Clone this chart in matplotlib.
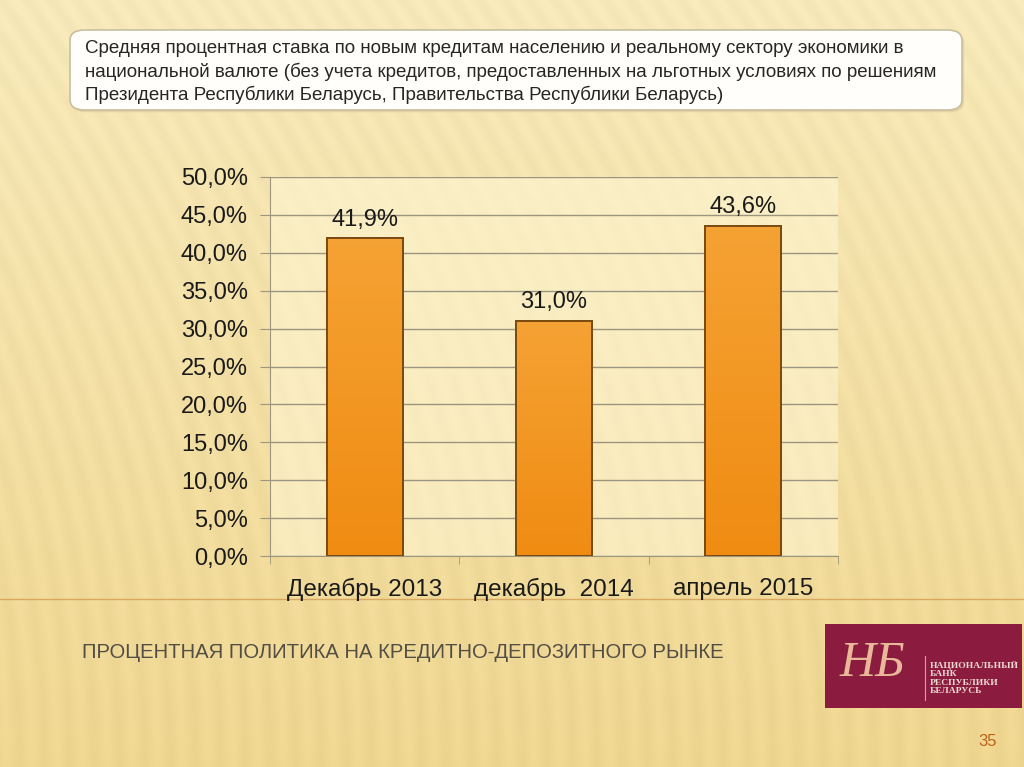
import numpy as np
import matplotlib
matplotlib.use("Agg")
import matplotlib.pyplot as plt
import matplotlib.ticker as mticker
from matplotlib.patches import FancyBboxPatch, Rectangle

# Data
categories = ["Декабрь 2013", "декабрь  2014", "апрель 2015"]
rates = [41.9, 31.0, 43.6]
y_ticks = [0, 5, 10, 15, 20, 25, 30, 35, 40, 45, 50]

header_text = (
    "Средняя процентная ставка по новым кредитам населению и реальному сектору экономики в\n"
    "национальной валюте (без учета кредитов, предоставленных на льготных условиях по решениям\n"
    "Президента Республики Беларусь, Правительства Республики Беларусь)"
)
slide_title = "ПРОЦЕНТНАЯ ПОЛИТИКА НА КРЕДИТНО-ДЕПОЗИТНОГО РЫНКЕ"
bank_name = "НАЦИОНАЛЬНЫЙ\nБАНК\nРЕСПУБЛИКИ\nБЕЛАРУСЬ"
page_no = "35"

plt.rcParams["font.family"] = ["Liberation Sans", "DejaVu Sans"]

W, H = 1024, 767
fig = plt.figure(figsize=(W / 100, H / 100), dpi=100)


def px(x, y):
    """pixel coords (top-left origin) -> figure fraction"""
    return x / W, 1 - y / H


# Background: beige gradient with soft stripes
bg = fig.add_axes([0, 0, 1, 1])
bg.set_axis_off()
yy, xx = np.mgrid[0:H, 0:W]
t = yy / H
top = np.array([247, 233, 186]) / 255
bot = np.array([239, 214, 144]) / 255
base = top[None, None, :] * (1 - t[..., None]) + bot[None, None, :] * t[..., None]
stripes = 0.011 * np.sin((xx + 0.35 * (H - yy) * (1 - t)) / 4.0)
img = np.clip(base + stripes[..., None], 0, 1)
bg.imshow(img, extent=[0, 1, 0, 1], aspect="auto", zorder=0)
bg.set_xlim(0, 1)
bg.set_ylim(0, 1)

# horizontal rule below chart
x0, y0 = px(0, 599)
bg.plot([0, 1], [y0, y0], color="#d9a860", lw=1.0, zorder=1)

# Header box
bx, by = px(70, 110)
bw, bh = 892 / W, 80 / H
bg.add_patch(FancyBboxPatch((bx + 0.002, by - 0.003), bw, bh,
                            boxstyle="round,pad=0,rounding_size=0.014",
                            fc="#d8c894", ec="none", alpha=0.6, zorder=2))
bg.add_patch(FancyBboxPatch((bx, by), bw, bh,
                            boxstyle="round,pad=0,rounding_size=0.014",
                            fc="#fffefa", ec="#c9bfa0", lw=1.2, zorder=3))
tx, ty = px(85, 40)
bg.text(tx, ty, header_text, fontsize=13.5, color="#262626", va="top", ha="left",
        linespacing=1.37, zorder=4)

# Slide title
tx, ty = px(82, 653)
bg.text(tx, ty, slide_title, fontsize=14.6, color="#524e46", va="center", ha="left",
        zorder=4)

# Bank logo
lx, ly = px(825, 708)
bg.add_patch(Rectangle((lx, ly), 197 / W, 84 / H, fc="#8b1c40", ec="none", zorder=4))
mx, my = px(872, 664)
bg.text(mx, my, "НБ", fontsize=36, color="#e8b898", style="italic", ha="center",
        va="center", family=["Liberation Serif", "DejaVu Serif"], zorder=5)
vx, vy1 = px(925, 656)
_, vy2 = px(925, 700)
bg.plot([vx, vx], [vy1, vy2], color="#d8a0a0", lw=0.8, zorder=5)
nx, ny = px(930, 678)
bg.text(nx, ny, bank_name, fontsize=6.8, color="#f0d8d0", weight="bold", ha="left",
        va="center", linespacing=1.1, family=["Liberation Serif", "DejaVu Serif"], zorder=5)

# Page number
px_, py_ = px(988, 741)
bg.text(px_, py_, page_no, fontsize=12, color="#c0601a", ha="center", va="center", zorder=5)

# Chart
l, b = px(270, 556)
r, tp = px(838, 177)
ax = fig.add_axes([l, b, r - l, tp - b])
ax.set_facecolor((1.0, 0.97, 0.84, 0.55))
ax.set_zorder(3)

pos = np.arange(len(categories))
bars = ax.bar(pos, rates, width=0.4, color="#f49a22", edgecolor="#7a4a12",
              linewidth=1.2, zorder=3)
# subtle gradient fill inside each bar
cm = matplotlib.colors.LinearSegmentedColormap.from_list("o", ["#f08c12", "#f5a234"])
for bar in bars:
    x_, w_ = bar.get_x(), bar.get_width()
    h_ = bar.get_height()
    grad = np.linspace(0, 1, 64)[:, None]
    ax.imshow(grad, extent=[x_, x_ + w_, 0, h_], aspect="auto", cmap=cm,
              origin="lower", zorder=3.5)
    ax.add_patch(Rectangle((x_, 0), w_, h_, fc="none", ec="#7a4a12", lw=1.4, zorder=4))

for p, v in zip(pos, rates):
    ax.text(p, v + 1.0, f"{v:.1f}%".replace(".", ","), ha="center", va="bottom",
            fontsize=17, color="#1a1a1a", zorder=5)

ax.set_xlim(-0.5, len(categories) - 0.5)
ax.set_ylim(0, 50)
ax.set_yticks(y_ticks)
ax.yaxis.set_major_formatter(
    mticker.FuncFormatter(lambda v, _: f"{v:.1f}%".replace(".", ",")))
ax.grid(axis="y", color="#9c9680", lw=1.0, zorder=1)
ax.set_axisbelow(True)

ax.set_xticks(pos)
ax.set_xticklabels(categories, fontsize=17.5, color="#1a1a1a")
ax.set_xticks(np.arange(-0.5, len(categories)), minor=True)
ax.tick_params(axis="x", which="major", length=0, pad=16)
ax.tick_params(axis="x", which="minor", length=6, color="#9c9680", direction="out")
ax.tick_params(axis="y", length=7, color="#9c9680", labelsize=17, labelcolor="#1a1a1a",
               pad=9)

for side in ["top", "right"]:
    ax.spines[side].set_visible(False)
ax.spines["left"].set_color("#9c9680")
ax.spines["bottom"].set_color("#9c9680")

fig.savefig("out.png", dpi=100)
